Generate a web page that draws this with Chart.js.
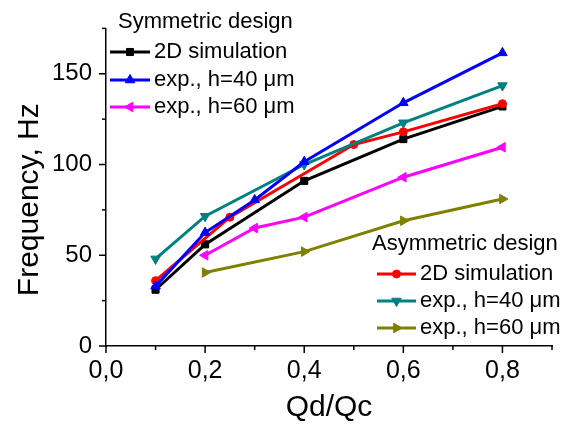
<!DOCTYPE html>
<html>
<head>
<meta charset="utf-8">
<script src="https://cdn.jsdelivr.net/npm/chart.js@4.4.0/dist/chart.umd.min.js"></script>
<style>
  html, body { margin: 0; padding: 0; background: #fff; }
  #wrap { width: 562px; height: 426px; }
</style>
</head>
<body>
<div id="wrap"><canvas id="myChart" width="562" height="426"></canvas></div>
<script>
  'use strict'

  // values
  var symSimX = [0.1, 0.2, 0.4, 0.6, 0.8]
  var symSimY = [31, 56, 91, 114, 132]
  var sym40X = [0.1, 0.2, 0.3, 0.4, 0.6, 0.8]
  var sym40Y = [33, 62.5, 80.5, 101.5, 134, 161.5]
  var sym60X = [0.2, 0.3, 0.4, 0.6, 0.8]
  var sym60Y = [50, 65, 71, 93, 109.5]
  var asymSimX = [0.1, 0.25, 0.5, 0.6, 0.8]
  var asymSimY = [36, 71, 111, 118, 133.5]
  var asym40X = [0.1, 0.2, 0.4, 0.6, 0.8]
  var asym40Y = [48, 71.5, 100, 123, 143.5]
  var asym60X = [0.2, 0.4, 0.6, 0.8]
  var asym60Y = [40.5, 52, 69, 81]

  var seriesLabels = ['2D simulation', 'exp., h=40 \u03bcm', 'exp., h=60 \u03bcm']
  var groupTitles = ['Symmetric design', 'Asymmetric design']
  var xTickLabels = ['0,0', '0,2', '0,4', '0,6', '0,8']
  var yTickLabels = ['0', '50', '100', '150']

  var FONT = "'Liberation Sans', Arial, sans-serif"

  function pts (xs, ys) {
    return xs.map(function (v, i) { return { x: v, y: ys[i] } })
  }

  function series (label, xs, ys, color, style, rot, radius, order) {
    return {
      label: label,
      data: pts(xs, ys),
      borderColor: color,
      backgroundColor: color,
      pointBackgroundColor: color,
      pointBorderColor: color,
      borderWidth: 3,
      pointStyle: style,
      rotation: rot,
      pointRadius: radius,
      pointBorderWidth: 1,
      tension: 0,
      order: order
    }
  }

  var datasets = [
    series(seriesLabels[0], symSimX, symSimY, '#000000', 'rect', 0, 5, 4),
    series(seriesLabels[1], sym40X, sym40Y, '#0000ff', 'triangle', 0, 5.5, 1),
    series(seriesLabels[2], sym60X, sym60Y, '#ff00ff', 'triangle', -90, 5.5, 5),
    series(seriesLabels[0], asymSimX, asymSimY, '#ff0000', 'circle', 0, 4, 3),
    series(seriesLabels[1], asym40X, asym40Y, '#008080', 'triangle', 180, 5.5, 2),
    series(seriesLabels[2], asym60X, asym60Y, '#808000', 'triangle', 90, 5.5, 6)
  ]

  function xLabel (v) {
    var i = Math.round(v * 10)
    return i % 2 === 0 ? (xTickLabels[i / 2] || '') : ''
  }
  function yLabel (v) {
    return v % 50 === 0 ? (yTickLabels[v / 50] || '') : ''
  }

  // tick marks, long for labelled ticks, short for the others
  var tickMarks = {
    id: 'tickMarks',
    afterDraw: function (chart) {
      var ctx = chart.ctx
      var sx = chart.scales.x
      var sy = chart.scales.y
      ctx.save()
      ctx.strokeStyle = '#000'
      ctx.lineWidth = 1.5
      sx.ticks.forEach(function (t) {
        var px = sx.getPixelForValue(t.value)
        var len = xLabel(t.value) ? 7 : 4
        ctx.beginPath(); ctx.moveTo(px, sx.top); ctx.lineTo(px, sx.top + len); ctx.stroke()
      })
      sy.ticks.forEach(function (t) {
        var py = sy.getPixelForValue(t.value)
        var len = yLabel(t.value) ? 7 : 4
        ctx.beginPath(); ctx.moveTo(sy.right, py); ctx.lineTo(sy.right - len, py); ctx.stroke()
      })
      ctx.restore()
    }
  }

  // the two legend blocks
  function drawBlock (ctx, title, tx, ty, x0, x1, rows, items) {
    ctx.font = '22px ' + FONT
    ctx.fillStyle = '#000'
    ctx.textBaseline = 'middle'
    ctx.textAlign = 'left'
    ctx.fillText(title, tx, ty)
    items.forEach(function (ds, i) {
      var y = rows[i]
      ctx.save()
      ctx.strokeStyle = ds.borderColor
      ctx.lineWidth = 3
      ctx.beginPath(); ctx.moveTo(x0, y); ctx.lineTo(x1, y); ctx.stroke()
      ctx.fillStyle = ds.backgroundColor
      ctx.lineWidth = 1
      Chart.helpers.drawPoint(ctx, {
        pointStyle: ds.pointStyle, rotation: ds.rotation, radius: ds.pointRadius, borderWidth: 1
      }, (x0 + x1) / 2, y)
      ctx.restore()
      ctx.fillStyle = '#000'
      ctx.fillText(ds.label, x1 + 4, y)
    })
  }

  var legends = {
    id: 'legends',
    afterDraw: function (chart) {
      var ctx = chart.ctx
      var ds = chart.data.datasets
      drawBlock(ctx, groupTitles[0], 118, 22, 110, 150, [52, 80, 107], ds.slice(0, 3))
      drawBlock(ctx, groupTitles[1], 372, 244, 377, 416, [274, 301, 328], ds.slice(3, 6))
    }
  }

  var ctx = document.getElementById('myChart')
  new Chart(ctx, {
    type: 'line',
    data: { datasets: datasets },
    plugins: [tickMarks, legends],
    options: {
      responsive: false,
      animation: false,
      layout: { padding: { left: 0, right: 3, top: 15, bottom: 0 } },
      plugins: { legend: { display: false }, tooltip: { enabled: false } },
      scales: {
        x: {
          type: 'linear',
          min: 0,
          max: 0.9,
          grid: { display: false, drawTicks: false },
          border: { color: '#000', width: 1.5 },
          ticks: {
            stepSize: 0.1,
            padding: 10,
            autoSkip: false,
            maxRotation: 0,
            color: '#000',
            font: { family: FONT, size: 25 },
            callback: function (v) { return xLabel(v) }
          },
          title: {
            display: true,
            text: 'Qd/Qc',
            color: '#000',
            font: { family: FONT, size: 30 },
            padding: { top: 0, bottom: 0 }
          },
          afterFit: function (s) { s.height = 80 }
        },
        y: {
          min: 0,
          max: 175,
          grid: { display: false, drawTicks: false },
          border: { color: '#000', width: 1.5 },
          ticks: {
            stepSize: 25,
            padding: 14,
            autoSkip: false,
            color: '#000',
            font: { family: FONT, size: 24 },
            callback: function (v) { return yLabel(v) }
          },
          title: {
            display: true,
            // trailing spaces push the centred title a little lower, as in the picture
            text: 'Frequency, Hz   ',
            color: '#000',
            font: { family: FONT, size: 30 },
            padding: { top: 12, bottom: 0 }
          },
          afterFit: function (s) { s.width = 106 }
        }
      }
    }
  })
</script>
</body>
</html>
